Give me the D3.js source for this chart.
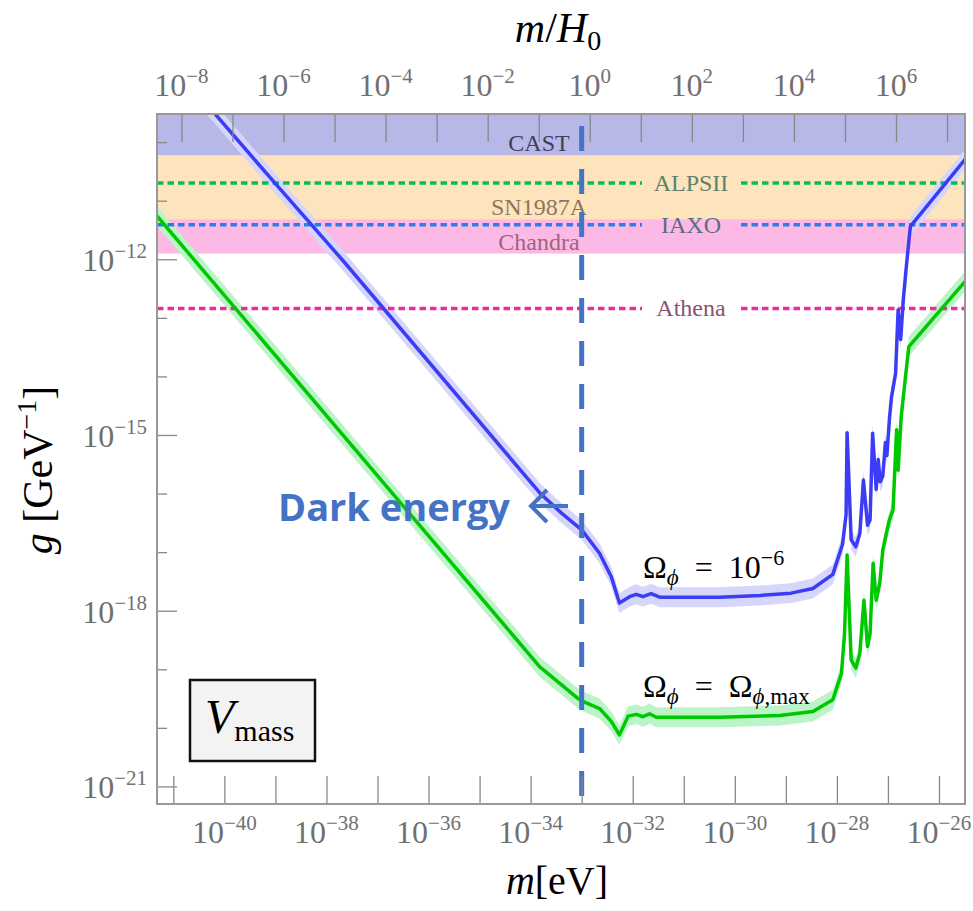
<!DOCTYPE html>
<html>
<head>
<meta charset="utf-8">
<script src="https://cdnjs.cloudflare.com/ajax/libs/d3/7.8.5/d3.min.js"></script>
<style>
body { margin: 0; background: #fff; }
text { font-family: "Liberation Serif", "DejaVu Serif", serif; }
text.note { font-family: "Open Sans", "Noto Sans", sans-serif; font-weight: bold; }
</style>
</head>
<body>
<svg id="chart" width="973" height="911"></svg>
<script>
// values, as log10 of m [eV] and log10 of g [GeV^-1]
var blueLogM = [-40.5, -39.0, -37.67, -33.82, -33.4, -33.0, -32.65, -32.42, -32.26, -32.06, -31.93, -31.80, -31.64, -31.47,
	-30.3, -29.5, -28.9, -28.47, -28.08, -27.89, -27.82, -27.80, -27.72, -27.63, -27.55, -27.48, -27.40, -27.35, -27.30,
	-27.23, -27.19, -27.15, -27.10, -27.05, -27.02, -26.97, -26.93, -26.85, -26.80, -26.75, -26.70, -26.64, -26.59, -26.56, -25.40];
var blueLogG = [-9.20, -10.71, -12.03, -15.99, -16.33, -16.62, -17.02, -17.42, -17.87, -17.76, -17.72, -17.76, -17.71, -17.77,
	-17.77, -17.74, -17.70, -17.62, -17.38, -16.87, -16.36, -14.96, -16.79, -16.91, -16.68, -15.77, -16.54, -16.45, -14.97,
	-15.93, -15.42, -15.80, -15.70, -15.13, -15.35, -14.72, -14.35, -13.95, -12.86, -13.37, -12.70, -12.13, -11.69, -11.44, -10.20];

var greenLogM = [-41.4, -33.82, -33.43, -33.07, -33.0, -32.65, -32.42, -32.26, -32.09, -31.93, -31.80, -31.67, -31.54,
	-30.3, -29.12, -28.47, -28.08, -27.91, -27.85, -27.80, -27.72, -27.63, -27.55, -27.47, -27.40, -27.35, -27.29,
	-27.23, -27.16, -27.10, -27.03, -26.97, -26.90, -26.83, -26.80, -26.74, -26.67, -26.59, -25.40];
var greenLogG = [-11.18, -18.96, -19.24, -19.50, -19.54, -19.67, -19.89, -20.12, -19.80, -19.77, -19.81, -19.76, -19.82,
	-19.82, -19.79, -19.72, -19.52, -19.07, -18.39, -17.05, -18.84, -18.98, -18.73, -17.82, -18.61, -18.39, -17.19,
	-17.82, -17.53, -16.96, -16.68, -16.45, -16.28, -14.91, -15.60, -14.69, -14.12, -13.49, -12.29];

// excluded regions (filled) and future reach (dotted)
var excludedNames = ["CAST", "SN1987A", "Chandra"];
var excludedG = [6e-11, 4.8e-12, 1.25e-12];
var futureNames = ["ALPSII", "IAXO", "Athena"];
var futureG = [2e-11, 3.9e-12, 1.45e-13];

var bottomLabelExp = [-40, -38, -36, -34, -32, -30, -28, -26];
var topLabelExp = [-8, -6, -4, -2, 0, 2, 4, 6];
var leftLabelExp = [-12, -15, -18, -21];

var darkEnergyM = 1e-33;
var H0 = 1.44e-33; // eV

var cfg = {
	left: 157, right: 965, top: 114, bottom: 804,
	bandWidth: 0.17 // decades
};

var excludedColors = ["#b8b8e8", "#fde4bc", "#fdb9e6"];
var excludedText = ["#3f3f58", "#8c7660", "#9c6580"];
var futureColors = ["#00c157", "#2c7fe0", "#ec2c9a"];
var futureText = ["#5c8270", "#5d6a82", "#8b5171"];

var svg = d3.select("#chart");

var x = d3.scaleLog()
	.domain([Math.pow(10, -41.32), Math.pow(10, -25.49)])
	.range([cfg.left, cfg.right]);
var xTop = d3.scaleLog()
	.domain(x.domain().map(function(d) { return d / H0; }))
	.range([cfg.left, cfg.right]);
var y = d3.scaleLog()
	.domain([Math.pow(10, -21.30), Math.pow(10, -9.52)])
	.range([cfg.bottom, cfg.top]);

svg.append("defs").append("clipPath").attr("id", "plotclip")
	.append("rect")
	.attr("x", cfg.left).attr("y", cfg.top)
	.attr("width", cfg.right - cfg.left).attr("height", cfg.bottom - cfg.top);

var plot = svg.append("g").attr("clip-path", "url(#plotclip)");

// excluded bands, drawn from the widest one so they stack
for (var i = excludedG.length - 1; i >= 0; i--) {
	plot.append("rect")
		.attr("x", cfg.left)
		.attr("y", cfg.top)
		.attr("width", cfg.right - cfg.left)
		.attr("height", y(excludedG[i]) - cfg.top)
		.attr("fill", excludedColors[i]);
}

function toPoints(lm, lg) {
	return lm.map(function(d, i) { return { m: Math.pow(10, d), g: Math.pow(10, lg[i]) }; });
}
var blue = toPoints(blueLogM, blueLogG);
var green = toPoints(greenLogM, greenLogG);

var band = d3.area()
	.x(function(d) { return x(d.m); })
	.y0(function(d) { return y(d.g * Math.pow(10, -cfg.bandWidth)); })
	.y1(function(d) { return y(d.g * Math.pow(10, cfg.bandWidth)); });
var line = d3.line()
	.x(function(d) { return x(d.m); })
	.y(function(d) { return y(d.g); });

plot.append("path").datum(blue).attr("d", band).attr("fill", "#d6d6fb");
plot.append("path").datum(green).attr("d", band).attr("fill", "#baf4c7");

// dotted sensitivity lines, broken around their labels
var gapL = 642, gapR = 741;
futureG.forEach(function(g, i) {
	[[cfg.left, gapL], [gapR, cfg.right]].forEach(function(seg) {
		plot.append("line")
			.attr("x1", seg[0]).attr("x2", seg[1])
			.attr("y1", y(g)).attr("y2", y(g))
			.attr("stroke", futureColors[i])
			.attr("stroke-width", 3.5)
			.attr("stroke-dasharray", "6.5,4");
	});
});

plot.append("path").datum(blue).attr("d", line)
	.attr("fill", "none").attr("stroke", "#3c3cf6").attr("stroke-width", 3.5).attr("stroke-linejoin", "round");
plot.append("path").datum(green).attr("d", line)
	.attr("fill", "none").attr("stroke", "#00c800").attr("stroke-width", 3.5).attr("stroke-linejoin", "round");

// labels of the limits
var excludedY = [143, 207, 242];
excludedNames.forEach(function(n, i) {
	svg.append("text")
		.attr("x", 539).attr("y", excludedY[i] + 8)
		.attr("text-anchor", "middle")
		.attr("font-size", 24)
		.attr("fill", excludedText[i])
		.text(n);
});
futureNames.forEach(function(n, i) {
	svg.append("text")
		.attr("x", 691).attr("y", y(futureG[i]) + 8)
		.attr("text-anchor", "middle")
		.attr("font-size", 24)
		.attr("fill", futureText[i])
		.text(n);
});

// dark energy boundary
svg.append("line")
	.attr("x1", x(darkEnergyM)).attr("x2", x(darkEnergyM))
	.attr("y1", 126).attr("y2", 806)
	.attr("stroke", "#4472c4")
	.attr("stroke-width", 5)
	.attr("stroke-dasharray", "25,18");

// frame and ticks
var tickColor = "#888";
var frame = svg.append("g");

var xTicks = d3.range(-41, -25).map(function(e) { return Math.pow(10, e); });
frame.append("g")
	.attr("transform", "translate(0," + cfg.bottom + ")")
	.call(d3.axisBottom(x).tickValues(xTicks).tickSize(-28).tickFormat(""));
var topTicks = d3.range(-8, 8).map(function(e) { return Math.pow(10, e); });
frame.append("g")
	.attr("transform", "translate(0," + cfg.top + ")")
	.call(d3.axisTop(xTop).tickValues(topTicks).tickSize(-28).tickFormat(""));
var yMajor = leftLabelExp.map(function(e) { return Math.pow(10, e); });
var yMinor = d3.range(-21, -9).filter(function(e) { return leftLabelExp.indexOf(e) === -1; })
	.map(function(e) { return Math.pow(10, e); });
frame.append("g")
	.attr("transform", "translate(" + cfg.left + ",0)")
	.call(d3.axisLeft(y).tickValues(yMajor).tickSize(-20).tickFormat(""));
frame.append("g")
	.attr("transform", "translate(" + cfg.left + ",0)")
	.call(d3.axisLeft(y).tickValues(yMinor).tickSize(-10).tickFormat(""));
frame.selectAll(".domain").remove();
frame.selectAll(".tick line").attr("stroke", tickColor).attr("stroke-width", 1.3);

svg.append("rect")
	.attr("x", cfg.left).attr("y", cfg.top)
	.attr("width", cfg.right - cfg.left).attr("height", cfg.bottom - cfg.top)
	.attr("fill", "none").attr("stroke", "#999").attr("stroke-width", 2);

// power-of-ten tick labels
function powLabel(sel, e) {
	sel.append("tspan").text("10");
	sel.append("tspan").attr("dy", -13).attr("font-size", 21)
		.text(e < 0 ? "\u2212" + Math.abs(e) : String(e));
}
var labelColor = "#707070";
bottomLabelExp.forEach(function(e) {
	var t = svg.append("text")
		.attr("x", x(Math.pow(10, e))).attr("y", 843)
		.attr("text-anchor", "middle").attr("font-size", 32).attr("fill", labelColor);
	powLabel(t, e);
});
topLabelExp.forEach(function(e) {
	var t = svg.append("text")
		.attr("x", xTop(Math.pow(10, e))).attr("y", 96)
		.attr("text-anchor", "middle").attr("font-size", 32).attr("fill", labelColor);
	powLabel(t, e);
});
leftLabelExp.forEach(function(e) {
	var t = svg.append("text")
		.attr("x", 147).attr("y", y(Math.pow(10, e)) + 12)
		.attr("text-anchor", "end").attr("font-size", 32).attr("fill", labelColor);
	powLabel(t, e);
});

// axis titles
var topTitle = svg.append("text").attr("x", 558).attr("y", 42)
	.attr("text-anchor", "middle").attr("font-size", 42);
topTitle.append("tspan").attr("font-style", "italic").text("m");
topTitle.append("tspan").text("/");
topTitle.append("tspan").attr("font-style", "italic").text("H");
topTitle.append("tspan").attr("font-size", 28).attr("dy", 8).text("0");

var bottomTitle = svg.append("text").attr("x", 557).attr("y", 894)
	.attr("text-anchor", "middle").attr("font-size", 40);
bottomTitle.append("tspan").attr("font-style", "italic").text("m");
bottomTitle.append("tspan").text("[eV]");

var leftTitle = svg.append("text")
	.attr("transform", "translate(52,470) rotate(-90)")
	.attr("text-anchor", "middle").attr("font-size", 42);
leftTitle.append("tspan").attr("font-style", "italic").text("g");
leftTitle.append("tspan").text(" [GeV");
leftTitle.append("tspan").attr("font-size", 28).attr("dy", -16).text("\u22121");
leftTitle.append("tspan").attr("dy", 16).text("]");

// curve annotations
var eq = "\u2002=\u2002";
var om1 = svg.append("text").attr("x", 643).attr("y", 578).attr("font-size", 32);
om1.append("tspan").text("\u03A9");
om1.append("tspan").attr("font-style", "italic").attr("font-size", 23).attr("dy", 7).text("\u03D5");
om1.append("tspan").attr("dy", -7).text(eq + "10");
om1.append("tspan").attr("font-size", 22).attr("dy", -13).text("\u22126");

var om2 = svg.append("text").attr("x", 643).attr("y", 697).attr("font-size", 32);
om2.append("tspan").text("\u03A9");
om2.append("tspan").attr("font-style", "italic").attr("font-size", 23).attr("dy", 7).text("\u03D5");
om2.append("tspan").attr("dy", -7).text(eq + "\u03A9");
om2.append("tspan").attr("font-size", 23).attr("dy", 7).attr("font-style", "italic").text("\u03D5");
om2.append("tspan").attr("font-size", 23).text(",max");

// potential box
svg.append("rect")
	.attr("x", 190).attr("y", 680).attr("width", 125).attr("height", 81)
	.attr("fill", "#f3f3f3").attr("stroke", "#111").attr("stroke-width", 2.5);
var vm = svg.append("text").attr("x", 205).attr("y", 733).attr("font-size", 48);
vm.append("tspan").attr("font-style", "italic").text("V");
vm.append("tspan").attr("font-size", 30).attr("dy", 8).text("mass");

// dark energy note
svg.append("text")
	.attr("class", "note")
	.attr("x", 278).attr("y", 521)
	.attr("font-size", 38)
	.attr("fill", "#4472c4")
	.text("Dark energy");
svg.append("path")
	.attr("d", "M568,506 L531,506 M547,490 L531,506 L547,522")
	.attr("fill", "none").attr("stroke", "#4472c4").attr("stroke-width", 4);
</script>
</body>
</html>
